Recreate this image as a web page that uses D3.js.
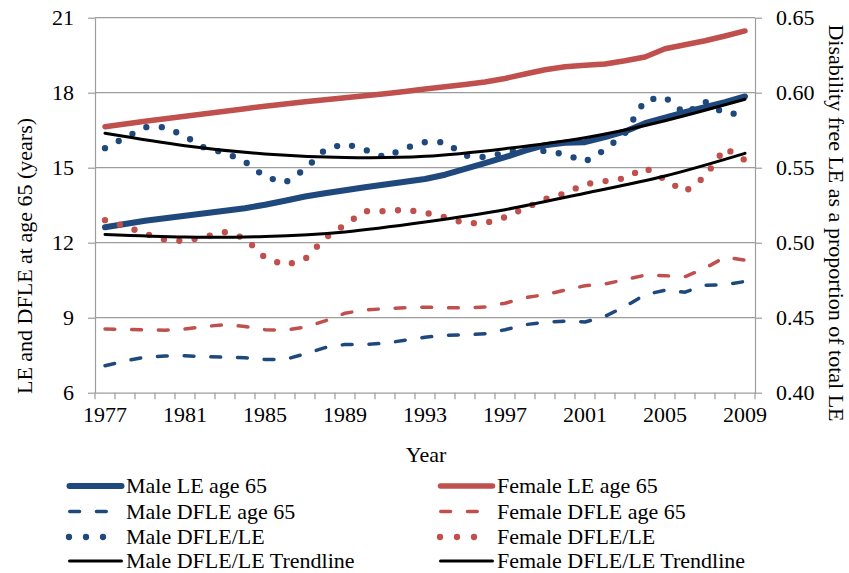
<!DOCTYPE html>
<html lang="en">
<head>
<meta charset="UTF-8">
<title>LE and DFLE at age 65</title>
<style>
  body { margin: 0; background: #fff; }
  text { font-family: "Liberation Serif", "Times New Roman", serif; fill: #000; }
</style>
</head>
<body>
<script src="https://d3js.org/d3.v7.min.js"></script>
<div id="chart"></div>
<script>
// categories
var years = [1977, 1978, 1979, 1980, 1981, 1982, 1983, 1984, 1985, 1986, 1987,
             1988, 1989, 1990, 1991, 1992, 1993, 1994, 1995, 1996, 1997, 1998,
             1999, 2000, 2001, 2002, 2003, 2004, 2005, 2006, 2007, 2008, 2009];
var labelYears = [1977, 1981, 1985, 1989, 1993, 1997, 2001, 2005, 2009];

// life expectancy (years), left axis
var maleLE = [12.62, 12.75, 12.88, 12.98, 13.08, 13.18, 13.28, 13.38, 13.52, 13.68, 13.85,
              13.98, 14.1, 14.22, 14.33, 14.44, 14.55, 14.72, 14.95, 15.18, 15.42, 15.68,
              15.9, 16.0, 16.02, 16.22, 16.45, 16.78, 17.0, 17.22, 17.42, 17.62, 17.85];
var femaleLE = [16.64, 16.75, 16.86, 16.96, 17.06, 17.16, 17.26, 17.36, 17.46, 17.55, 17.64,
                17.72, 17.8, 17.88, 17.96, 18.05, 18.15, 18.24, 18.33, 18.43, 18.57, 18.75,
                18.92, 19.04, 19.1, 19.15, 19.28, 19.43, 19.76, 19.92, 20.08, 20.27, 20.47];
var maleDFLE = [7.08, 7.27, 7.42, 7.47, 7.48, 7.44, 7.42, 7.4, 7.33, 7.33, 7.55,
                7.8, 7.93, 7.93, 7.98, 8.1, 8.22, 8.3, 8.31, 8.36, 8.52, 8.72,
                8.82, 8.86, 8.83, 9.05, 9.45, 9.92, 10.1, 10.02, 10.3, 10.32, 10.45];
var femaleDFLE = [8.55, 8.53, 8.51, 8.5, 8.55, 8.65, 8.72, 8.65, 8.52, 8.5, 8.62,
                  8.87, 9.18, 9.31, 9.36, 9.4, 9.42, 9.4, 9.39, 9.43, 9.58, 9.8,
                  9.92, 10.1, 10.28, 10.35, 10.52, 10.7, 10.68, 10.64, 10.98, 11.42, 11.3];

// DFLE as a proportion of LE, right axis
var maleRatio = [0.563, 0.570, 0.577, 0.577, 0.571, 0.563, 0.560, 0.554, 0.544, 0.540, 0.549,
                 0.562, 0.566, 0.562, 0.557, 0.563, 0.567, 0.567, 0.558, 0.557, 0.560, 0.563,
                 0.561, 0.559, 0.554, 0.562, 0.573, 0.595, 0.597, 0.586, 0.594, 0.586, 0.586];
var femaleRatio = [0.515, 0.511, 0.506, 0.502, 0.501, 0.504, 0.507, 0.503, 0.490, 0.485, 0.489,
                   0.503, 0.512, 0.521, 0.521, 0.522, 0.520, 0.517, 0.513, 0.513, 0.517, 0.523,
                   0.529, 0.533, 0.539, 0.541, 0.543, 0.550, 0.542, 0.534, 0.544, 0.563, 0.555];

// trendlines read at the labelled years
var maleTrend = [0.573, 0.5647, 0.5592, 0.5568, 0.5576, 0.5627, 0.5700, 0.5813, 0.5956];
var femaleTrend = [0.5055, 0.5038, 0.5042, 0.5072, 0.5138, 0.5220, 0.5330, 0.5445, 0.5596];

var leftTicks = [6, 9, 12, 15, 18, 21];
var rightTicks = [0.40, 0.45, 0.50, 0.55, 0.60, 0.65];

var blue = "#1f497d", red = "#c0504d", grid = "#9d9d9d";

var width = 849, height = 573;
var plot = {left: 95, right: 755, top: 17.7, bottom: 392.7};

var svg = d3.select("#chart").append("svg")
    .attr("width", width)
    .attr("height", height);

var xBand = d3.scaleBand().domain(years).range([plot.left, plot.right]).padding(0);
var x = function(yr) { return xBand(yr) + xBand.bandwidth() / 2; };
var yL = d3.scaleLinear().domain([6, 21]).range([plot.bottom, plot.top]);
var yR = d3.scaleLinear().domain([0.40, 0.65]).range([plot.bottom, plot.top]);

// gridlines
svg.append("g").selectAll("line")
  .data(leftTicks.slice(1))
  .enter().append("line")
    .attr("x1", plot.left).attr("x2", plot.right)
    .attr("y1", function(d) { return yL(d); })
    .attr("y2", function(d) { return yL(d); })
    .attr("stroke", grid).attr("stroke-width", 1.2);

// left axis
var gl = svg.append("g")
    .attr("transform", "translate(" + plot.left + ",0)")
    .call(d3.axisLeft(yL).tickValues(leftTicks).tickSize(7).tickSizeOuter(0).tickPadding(14));
gl.selectAll("line, path").attr("stroke", grid).attr("stroke-width", 1.2);
gl.selectAll("text").style("font-family", "Liberation Serif").style("font-size", "22px");

// right axis
var gr = svg.append("g")
    .attr("transform", "translate(" + plot.right + ",0)")
    .call(d3.axisRight(yR).tickValues(rightTicks).tickSize(7).tickSizeOuter(0)
      .tickPadding(14).tickFormat(d3.format(".2f")));
gr.selectAll("line, path").attr("stroke", grid).attr("stroke-width", 1.2);
gr.selectAll("text").style("font-family", "Liberation Serif").style("font-size", "22px");

// bottom axis: ticks between categories, labels every 4 years
var gb = svg.append("g")
    .attr("transform", "translate(0," + plot.bottom + ")")
    .call(d3.axisBottom(xBand).tickValues(labelYears).tickSize(0).tickPadding(14));
gb.select(".domain").attr("stroke", grid).attr("stroke-width", 1.2);
gb.selectAll("text").style("font-family", "Liberation Serif").style("font-size", "22px");
gb.selectAll(".cat-tick")
  .data(years.concat(["end"]))
  .enter().append("line")
    .attr("class", "cat-tick")
    .attr("x1", function(d) { return d === "end" ? plot.right : xBand(d); })
    .attr("x2", function(d) { return d === "end" ? plot.right : xBand(d); })
    .attr("y1", 0).attr("y2", 6.5)
    .attr("stroke", grid).attr("stroke-width", 1.2);

// series
var lineL = d3.line().x(function(d, i) { return x(years[i]); }).y(function(d) { return yL(d); });
var lineR = d3.line().x(function(d, i) { return x(years[i]); }).y(function(d) { return yR(d); });
var lineT = d3.line().x(function(d, i) { return x(labelYears[i]); }).y(function(d) { return yR(d); })
    .curve(d3.curveNatural);

var series = [
  {data: maleLE, line: lineL, color: blue, w: 6, dash: null},
  {data: femaleLE, line: lineL, color: red, w: 5.5, dash: null},
  {data: maleDFLE, line: lineL, color: blue, w: 3.5, dash: "9.8,16.9"},
  {data: femaleDFLE, line: lineL, color: red, w: 3.5, dash: "9.8,16.9"},
  {data: maleRatio, line: lineR, color: blue, w: 6.3, dash: "0,15.5"},
  {data: femaleRatio, line: lineR, color: red, w: 6.3, dash: "0,15.5"},
  {data: maleTrend, line: lineT, color: "#000", w: 3, dash: null},
  {data: femaleTrend, line: lineT, color: "#000", w: 3, dash: null}
];

svg.append("g").selectAll("path")
  .data(series)
  .enter().append("path")
    .attr("d", function(s) { return s.line(s.data); })
    .attr("fill", "none")
    .attr("stroke", function(s) { return s.color; })
    .attr("stroke-width", function(s) { return s.w; })
    .attr("stroke-dasharray", function(s) { return s.dash; })
    .attr("stroke-linecap", "round")
    .attr("stroke-linejoin", "round");

// axis titles
svg.append("text")
    .attr("transform", "translate(31.5,256) rotate(-90)")
    .attr("text-anchor", "middle")
    .style("font-size", "22px")
    .text("LE and DFLE at age 65 (years)");

svg.append("text")
    .attr("transform", "translate(829,223) rotate(90)")
    .attr("text-anchor", "middle")
    .style("font-size", "22px")
    .text("Disability free LE as a proportion of total LE");

svg.append("text")
    .attr("x", 426).attr("y", 462)
    .attr("text-anchor", "middle")
    .style("font-size", "22px")
    .text("Year");

// legend
var legendLabels = ["Male LE age 65", "Female LE age 65",
                    "Male DFLE age 65", "Female DFLE age 65",
                    "Male DFLE/LE", "Female DFLE/LE",
                    "Male DFLE/LE Trendline", "Female DFLE/LE Trendline"];
var legendRowY = [486, 511.5, 537, 561];
var legendColX = [68, 439];

var leg = svg.append("g").selectAll("g")
  .data(series)
  .enter().append("g")
    .attr("transform", function(s, i) {
      return "translate(" + legendColX[i % 2] + "," + legendRowY[Math.floor(i / 2)] + ")";
    });

leg.append("line")
    .attr("x1", function(s) { return s.dash === "0,15.5" ? 1 : (s.dash ? 1.75 : 1.5); })
    .attr("x2", function(s) { return s.dash === "0,15.5" ? 52 : (s.dash ? 40 : 53.5); })
    .attr("y1", 0).attr("y2", 0)
    .attr("stroke", function(s) { return s.color; })
    .attr("stroke-width", function(s) { return s.w; })
    .attr("stroke-dasharray", function(s) { return s.dash === "0,15.5" ? "0,17" : s.dash; })
    .attr("stroke-linecap", "round");

leg.append("text")
    .attr("x", 58).attr("y", 7)
    .style("font-size", "22px")
    .text(function(s, i) { return legendLabels[i]; });
</script>
</body>
</html>
